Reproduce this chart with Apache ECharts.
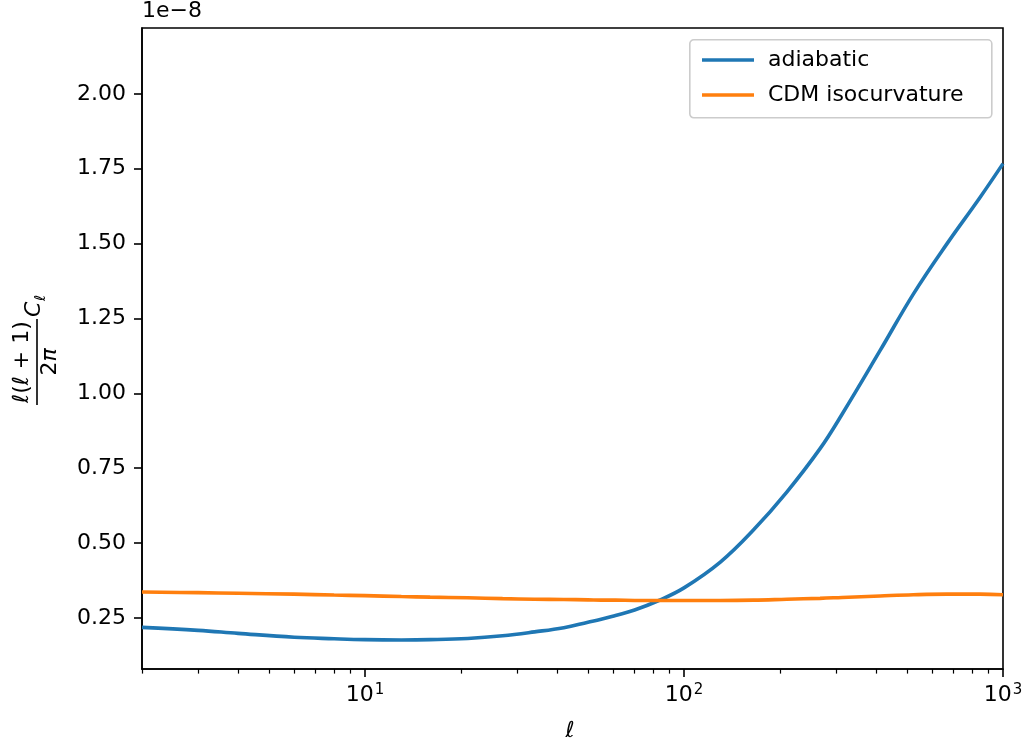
<!DOCTYPE html>
<html>
<head>
<meta charset="utf-8">
<script src="https://cdn.jsdelivr.net/npm/echarts@6/dist/echarts.min.js"></script>
<style>html,body{margin:0;padding:0;background:#fff;}#c{width:1029px;height:747px;}</style>
</head>
<body>
<div id="c"></div>
<script>
// multipole l
const ell = [2,3,4,6,8,10,13,16,21,27,34,42,50,55,61,70,83,100,130,165,210,267,313,412,524,667,847,1000];
// l(l+1)/2pi C_l in units of 1e-8
const adiabatic = [0.218,0.208,0.198,0.185,0.180,0.177,0.176,0.177,0.181,0.190,0.203,0.217,0.235,0.245,0.258,0.276,0.307,0.350,0.436,0.543,0.670,0.815,0.930,1.143,1.332,1.499,1.654,1.767];
const cdmIso = [0.336,0.334,0.332,0.329,0.326,0.324,0.321,0.319,0.317,0.314,0.312,0.311,0.310,0.309,0.309,0.308,0.308,0.308,0.308,0.309,0.312,0.315,0.318,0.323,0.327,0.329,0.329,0.327];
const seriesNames = ['adiabatic','CDM isocurvature'];
const yTicks = [0.25,0.50,0.75,1.00,1.25,1.50,1.75,2.00];
const xMajorTicks = [10,100,1000];
const xMinorTicks = [2,3,4,5,6,7,8,9,20,30,40,50,60,70,80,90,200,300,400,500,600,700,800,900];

const FONT = 'DejaVu Sans';
const chart = echarts.init(document.getElementById('c'), null, {renderer:'canvas'});
const option = {
  animation:false,
  backgroundColor:'#fff',
  grid:{left:142, top:28, right:26, bottom:78, show:true, borderColor:'#000', borderWidth:1.6, backgroundColor:'transparent', containLabel:false},
  legend:{
    orient:'vertical', left:697, top:42, itemWidth:52, itemHeight:3.4, itemGap:9, icon:'rect',
    textStyle:{fontFamily:FONT, fontSize:22, color:'#000', lineHeight:26, padding:[0,0,0,9]},
    data:seriesNames
  },
  xAxis:[{
    type:'log', logBase:10, min:2, max:1000, position:'bottom',
    axisLine:{show:true, lineStyle:{color:'#000', width:1.6}},
    axisTick:{show:true, inside:false, length:8, lineStyle:{color:'#000', width:1.6}, customValues:xMajorTicks},
    axisLabel:{show:true, margin:14, customValues:xMajorTicks, fontFamily:FONT, fontSize:22, color:'#000',
      formatter:function(v){ const e = Math.round(Math.log10(v)); return '10{s|' + e + '}'; },
      rich:{s:{fontFamily:FONT, fontSize:15, color:'#000', verticalAlign:'top', padding:[0,0,10,1]}}},
    splitLine:{show:false}, minorTick:{show:false}, minorSplitLine:{show:false}
  },{
    type:'log', logBase:10, min:2, max:1000, position:'bottom',
    axisLine:{show:false},
    axisTick:{show:true, inside:false, length:4.6, lineStyle:{color:'#000', width:1.2}, customValues:xMinorTicks},
    axisLabel:{show:false},
    splitLine:{show:false}
  }],
  yAxis:{
    type:'value', min:0.079, max:2.22,
    axisLine:{show:true, lineStyle:{color:'#000', width:1.6}},
    axisTick:{show:true, inside:false, length:8, lineStyle:{color:'#000', width:1.6}, customValues:yTicks},
    axisLabel:{show:true, margin:16, customValues:yTicks, fontFamily:FONT, fontSize:22, color:'#000',
      formatter:function(v){ return v.toFixed(2); }},
    splitLine:{show:false}
  },
  series:[
    {name:seriesNames[0], type:'line', xAxisIndex:0, showSymbol:false, symbol:'none', smooth:0.4,
     color:'#1f77b4', lineStyle:{color:'#1f77b4', width:3.6},
     data:ell.map((l,i)=>[l, adiabatic[i]])},
    {name:seriesNames[1], type:'line', xAxisIndex:0, showSymbol:false, symbol:'none', smooth:0.4,
     color:'#ff7f0e', lineStyle:{color:'#ff7f0e', width:3.6},
     data:ell.map((l,i)=>[l, cdmIso[i]])}
  ],
  graphic:[
    {type:'rect', left:689, top:39, shape:{width:302, height:78, r:4}, style:{fill:'rgba(255,255,255,0.8)', stroke:'#cccccc', lineWidth:1.6}, z:-1, zlevel:0},
    {type:'text', left:142, top:0, style:{text:'1e\u22128', fontFamily:FONT, fontSize:22, fill:'#000'}},
    {type:'text', x:570, y:731, style:{text:'\u2113', fontFamily:FONT, fontStyle:'italic', fontSize:22, fill:'#000', align:'center', verticalAlign:'middle'}},
    {type:'group', x:37, y:362, rotation:Math.PI/2, children:[
      {type:'line', shape:{x1:-43, y1:0, x2:43, y2:0}, style:{stroke:'#000', lineWidth:1.6}},
      {type:'text', x:0, y:-4, style:{text:'{i|\u2113}({i|\u2113} + 1)', fontFamily:FONT, fontSize:22, fill:'#000', align:'center', verticalAlign:'bottom',
        rich:{i:{fontFamily:FONT, fontStyle:'italic', fontSize:22, fill:'#000'}}}},
      {type:'text', x:0, y:2, style:{text:'2{i|\u03c0}', fontFamily:FONT, fontSize:22, fill:'#000', align:'center', verticalAlign:'top',
        rich:{i:{fontFamily:FONT, fontStyle:'italic', fontSize:22, fill:'#000'}}}},
      {type:'text', x:45, y:-3, style:{text:'C', fontFamily:FONT, fontStyle:'italic', fontSize:22, fill:'#000', align:'left', verticalAlign:'middle'}},
      {type:'text', x:61, y:4, style:{text:'\u2113', fontFamily:FONT, fontStyle:'italic', fontSize:15, fill:'#000', align:'left', verticalAlign:'middle'}}
    ]}
  ]
};
chart.setOption(option);
</script>
</body>
</html>
